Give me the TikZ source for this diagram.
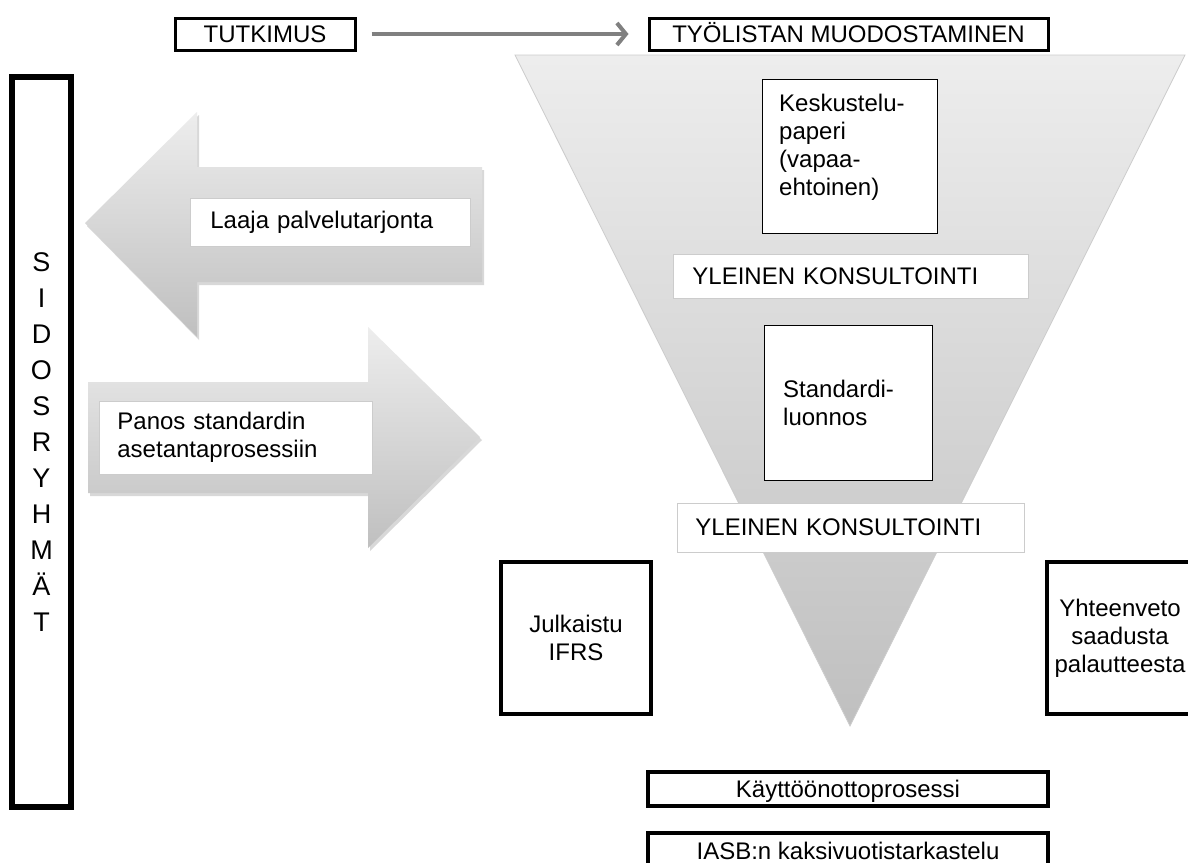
\documentclass[tikz,border=0pt]{standalone}
\usepackage{fontspec}
\setmainfont{Liberation Sans}
\usetikzlibrary{arrows.meta,shadows}
\begin{document}
\begin{tikzpicture}[x=1pt,y=-1pt,font=\fontsize{24}{28}\selectfont,
  box/.style={draw,line width=3pt,fill=white,inner sep=0,align=center},
  barbox/.style={box,text height=17pt,text depth=0pt},
  thinbox/.style={draw,line width=1.4pt,fill=white,inner sep=0,anchor=north west},
  lblbox/.style={draw=gray!40,line width=0.8pt,fill=white,inner ysep=0,anchor=west,align=left},
  txt/.style={inner sep=0,anchor=north west,align=left},
  bigarrow/.style={top color=gray!14,bottom color=gray!50,drop shadow={opacity=0.3,shadow xshift=2pt,shadow yshift=-3pt}},
  letter/.style={inner sep=0,font=\fontsize{27}{30}\selectfont,text height=19pt,text depth=0pt}]
\useasboundingbox(0,0)rectangle(1188,862);
\fill[white](0,0)rectangle(1188,862);
\path[draw=gray!40,line width=0.8pt,top color=gray!14,bottom color=gray!50](515,55)--(1185,55)--(850,726)--cycle;
\path[bigarrow](85,223)--(197,112)--(197,167)--(482,167)--(482,282)--(197,282)--(197,337)--cycle;
\path[bigarrow](480,437)--(368,327)--(368,382)--(88,382)--(88,493)--(368,493)--(368,548)--cycle;
\node[barbox,minimum width=180pt,minimum height=32pt](tut)at(265,34){TUTKIMUS};
\node[barbox,minimum width=399pt,minimum height=32pt](tyo)at(848.5,34){TYÖLISTAN MUODOSTAMINEN};
\draw[gray,line width=4pt,-{Straight Barb[length=9pt,width=22pt]},shorten <=15pt,shorten >=19pt](tut)--(tyo);
\node[box,line width=6pt,minimum width=59pt,minimum height=730pt](sid)at(41.5,442){};
\foreach \l[count=\k from 0]in{S,I,D,O,S,R,Y,H,M,Ä,T}\node[letter](l\k)at(41.5,262+36*\k){\l};
\node[lblbox,minimum height=48pt,inner xsep=20pt,text width=240pt](laaja)at(190,222){Laaja palvelutarjonta};
\node[lblbox,minimum height=73pt,inner xsep=18pt,text width=237pt](panos)at(99,437.5){Panos standardin\\asetantaprosessiin};
\node[thinbox,minimum width=175pt,minimum height=154pt](kesk)at(762,79){};
\node[txt](kesktxt)at(779,94){Keskustelu-\\paperi\\(vapaa-\\ehtoinen)};
\node[lblbox,minimum height=44pt,inner xsep=19pt,text width=317pt](yle1)at(673,276){YLEINEN KONSULTOINTI};
\node[thinbox,minimum width=168pt,minimum height=155pt](std)at(764,325){};
\node[txt](stdtxt)at(783,380){Standardi-\\luonnos};
\node[lblbox,minimum height=49pt,inner xsep=18pt,text width=311pt](yle2)at(677,527.5){YLEINEN KONSULTOINTI};
\node[box,line width=4pt,minimum width=150pt,minimum height=152pt](jul)at(576,638){Julkaistu\\IFRS};
\node[box,line width=4pt,minimum width=146pt,minimum height=152pt](yht)at(1120,638){Yhteenveto\\saadusta\\palautteesta};
\node[barbox,line width=3.5pt,minimum width=400pt,minimum height=34pt](kay)at(848,789){Käyttöönottoprosessi};
\node[barbox,line width=3.5pt,minimum width=400pt,minimum height=35pt](iasb)at(848,850.5){IASB:n kaksivuotistarkastelu};
\end{tikzpicture}
\end{document}
